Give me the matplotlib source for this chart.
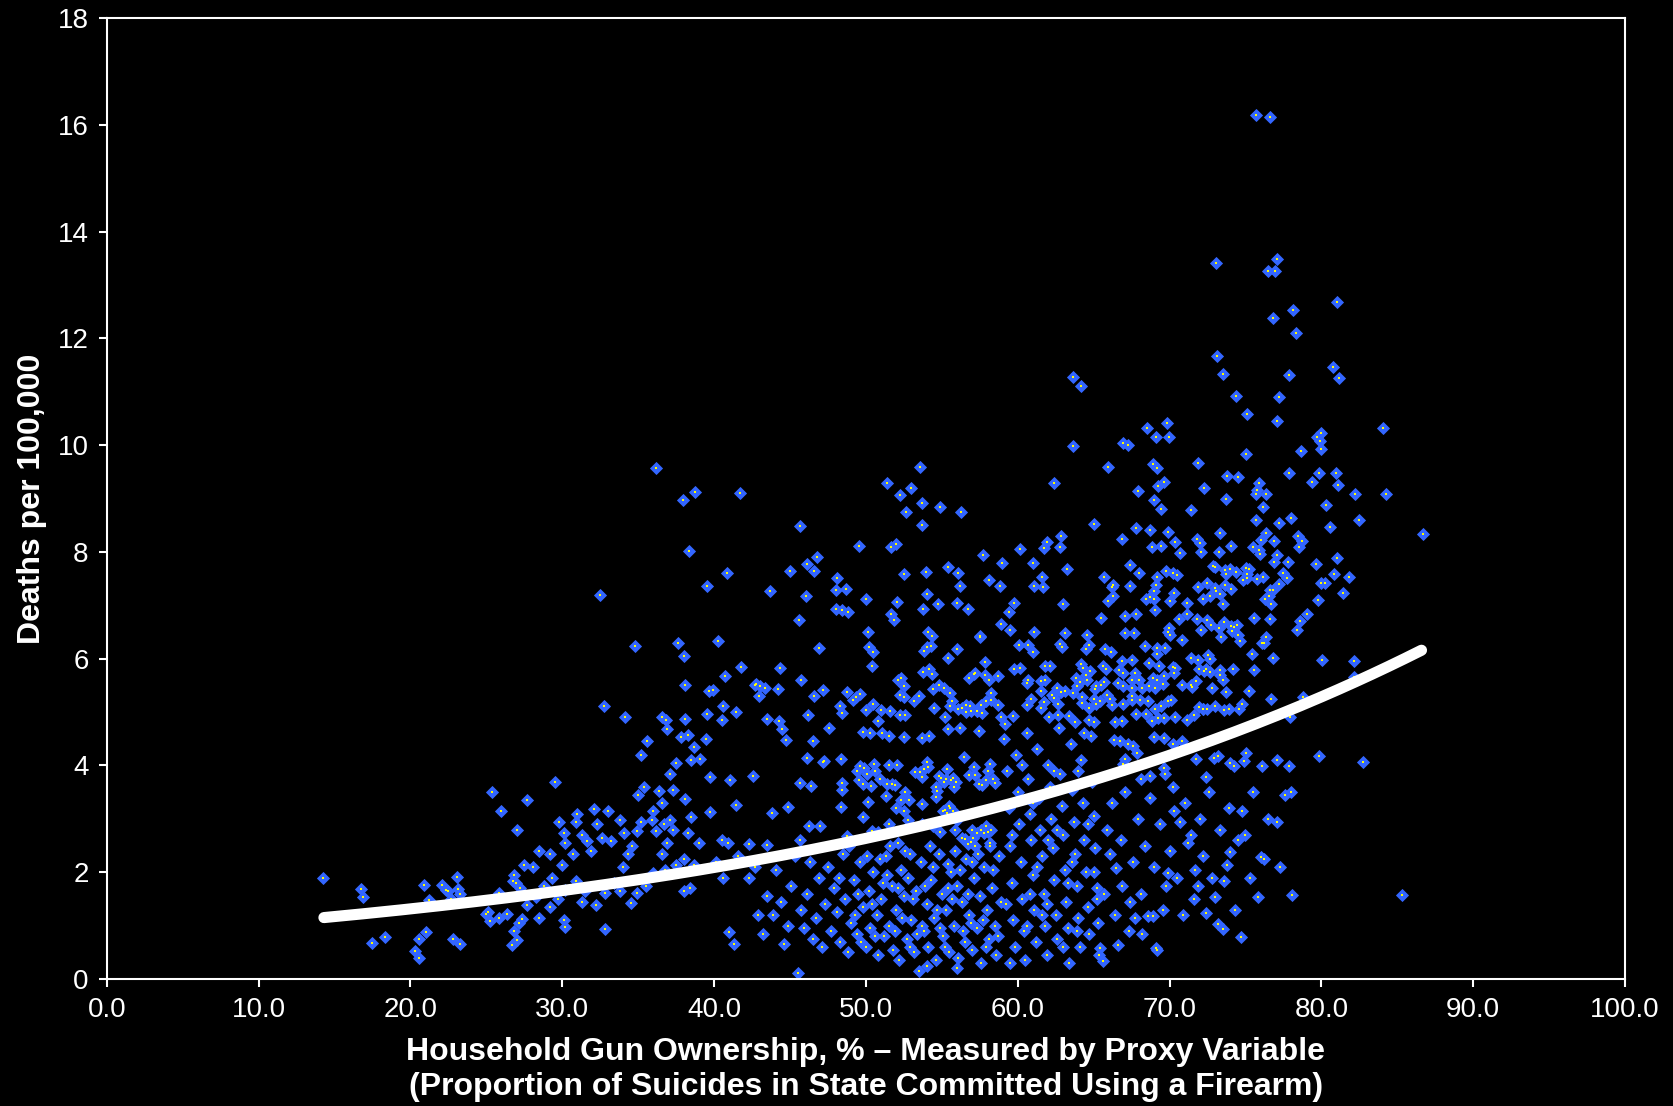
import matplotlib
matplotlib.use('Agg')
import matplotlib.pyplot as plt
import numpy as np

plt.rcParams['font.family'] = ['Liberation Sans', 'DejaVu Sans']

# high outliers (deaths > 9.5)
top_x = [75.73, 76.6, 73.08, 77.08, 76.48, 76.96, 81.05, 78.15, 76.84, 78.36,
         73.13, 73.53, 77.84, 80.74, 81.18, 63.64, 64.19, 74.35, 77.2, 75.12,
         77.08, 84.03, 69.82, 68.55, 69.1, 69.96, 66.95, 67.28, 63.67, 79.69,
         79.98, 79.93, 79.95, 78.68, 75.02, 53.55, 65.98, 68.91, 69.15, 71.88,
         36.18]
top_y = [16.19, 16.14, 13.42, 13.49, 13.27, 13.27, 12.68, 12.53, 12.38, 12.11,
         11.67, 11.33, 11.32, 11.46, 11.26, 11.28, 11.11, 10.93, 10.90, 10.58,
         10.45, 10.32, 10.42, 10.33, 10.16, 10.16, 10.05, 10.01, 9.98, 10.16,
         10.22, 10.07, 9.93, 9.90, 9.83, 9.60, 9.60, 9.64, 9.58, 9.66,
         9.58]

# 30-43 %, upper band
left_x = [38.77, 37.94, 41.69, 38.37, 40.84, 39.52, 32.51, 34.8, 37.6, 40.26,
          38.04, 41.77, 40.70, 42.7, 38.11, 39.64, 39.95, 32.73, 40.57, 41.45,
          39.56, 34.16, 36.55, 36.84, 38.09, 40.55]
left_y = [9.12, 8.97, 9.10, 8.01, 7.61, 7.37, 7.19, 6.24, 6.29, 6.33,
          6.05, 5.84, 5.67, 5.51, 5.51, 5.40, 5.42, 5.12, 5.12, 5.01,
          4.97, 4.90, 4.90, 4.85, 4.87, 4.85]

# 43-58 %, upper band
mid_x = [51.42, 53.0, 52.27, 53.7, 54.88, 52.62, 56.25, 53.7, 45.68, 49.57,
         51.68, 52.0, 46.76, 46.14, 46.6, 44.98, 55.41, 56.07, 53.96, 52.51,
         56.18, 48.08, 48.01, 48.67, 43.67, 46.08, 50.0, 54.03, 54.75, 56.0,
         56.75, 52.05, 53.77, 48.03, 48.45, 48.85, 51.68, 51.87, 45.62, 50.16,
         54.07, 54.38, 57.52, 50.19, 50.49, 54.03, 54.31, 53.81, 56.03, 55.39,
         46.91, 50.43, 44.32, 45.72, 53.74, 54.13, 54.33, 57.13, 56.81, 52.1,
         52.31, 52.49, 54.8, 55.17, 54.45, 55.55, 42.74, 43.05, 43.34, 42.96,
         44.22, 47.16, 46.6, 48.76, 49.64, 49.35, 49.18, 52.27, 52.49, 53.52,
         53.19, 55.65, 55.56, 56.05, 56.59, 56.86, 56.35, 56.59, 56.91, 57.3,
         54.5, 50.47, 50.0, 50.98, 51.57, 48.3, 48.45, 46.17, 43.47, 44.3,
         50.82, 52.25, 52.55, 55.22]
mid_y = [9.30, 9.20, 9.07, 8.91, 8.85, 8.74, 8.75, 8.51, 8.49, 8.12,
         8.10, 8.15, 7.91, 7.78, 7.64, 7.64, 7.72, 7.61, 7.62, 7.58,
         7.37, 7.51, 7.29, 7.31, 7.26, 7.17, 7.11, 7.21, 7.02, 7.04,
         6.94, 7.06, 6.93, 6.93, 6.92, 6.88, 6.84, 6.72, 6.72, 6.51,
         6.51, 6.43, 6.42, 6.22, 6.13, 6.22, 6.23, 6.14, 6.18, 6.02,
         6.21, 5.87, 5.83, 5.61, 5.76, 5.80, 5.71, 5.72, 5.63, 5.60,
         5.64, 5.49, 5.50, 5.45, 5.44, 5.36, 5.52, 5.49, 5.45, 5.30,
         5.44, 5.42, 5.30, 5.38, 5.34, 5.28, 5.23, 5.33, 5.28, 5.30,
         5.21, 5.20, 5.11, 5.06, 5.13, 5.11, 5.07, 5.00, 5.02, 5.03,
         5.07, 5.15, 5.04, 5.04, 5.02, 5.12, 4.99, 4.94, 4.88, 4.83,
         4.84, 4.94, 4.94, 4.90]

# 57-72 %, upper band
right_x = [62.41, 67.9, 69.22, 69.66, 68.96, 69.44, 71.41, 72.27, 65.05, 67.82,
           68.72, 69.93, 66.89, 62.88, 61.95, 62.77, 61.71, 60.14, 57.72, 58.97,
           61.01, 68.83, 69.42, 70.39, 70.69, 71.81, 72.01, 72.1, 63.27, 67.4,
           67.97, 69.75, 70.21, 70.47, 69.15, 65.69, 61.6, 58.11, 58.82, 61.1,
           61.69, 66.26, 66.2, 67.42, 69.11, 68.98, 68.43, 68.7, 69.0, 66.28,
           65.97, 70.3, 70.01, 71.9, 72.21, 71.14, 59.78, 63.0, 59.45, 69.05,
           71.17, 67.78, 67.09, 65.51, 70.6, 71.81, 58.88, 69.99, 70.03, 69.93,
           57.5, 59.51, 61.05, 63.1, 64.59, 67.09, 67.64, 70.82, 72.08, 60.11,
           60.7, 61.03, 62.81, 62.9, 64.7, 64.5, 65.73, 66.17, 68.37, 69.16,
           69.69, 69.2, 57.85, 57.19, 57.87, 58.13, 58.69, 59.78, 60.18, 61.82,
           62.13, 64.19, 64.31, 64.75, 65.62, 65.82, 66.88, 67.56, 66.69, 66.92,
           68.63, 69.33, 70.21, 70.36, 70.32, 71.41, 71.88, 71.94, 72.25, 67.75,
           68.9, 69.18, 69.62, 69.57, 69.07, 68.65, 68.17, 67.97, 67.51, 67.51,
           66.61, 66.96, 65.67, 65.49, 65.18, 65.07, 64.59, 64.52, 64.13, 63.91,
           63.82, 63.67, 63.14, 62.85, 62.59, 61.82, 61.56, 60.7, 60.63, 61.54,
           62.28, 62.42, 62.63, 61.74, 60.9, 60.63, 61.54, 59.67, 58.9, 58.73,
           58.24, 57.91, 58.22, 57.59, 57.34, 57.67, 64.26, 64.22, 64.72, 65.01,
           65.18, 65.45, 65.85, 66.07, 66.24, 66.96, 67.51, 67.53, 68.04, 68.57,
           69.05, 69.44, 69.93, 70.12, 70.81, 71.41, 71.46, 71.77, 71.93, 72.19,
           71.64, 71.16, 70.36, 69.62, 69.25, 68.83, 68.45, 67.82, 66.89, 66.41,
           64.72, 65.01, 63.78, 63.41, 62.66, 62.07, 59.19]
right_y = [9.29, 9.15, 9.24, 9.32, 8.97, 8.80, 8.79, 9.20, 8.52, 8.45,
           8.41, 8.37, 8.24, 8.30, 8.19, 8.10, 8.08, 8.06, 7.94, 7.79,
           7.79, 8.09, 8.12, 8.18, 7.99, 8.24, 8.17, 8.00, 7.69, 7.76,
           7.61, 7.65, 7.60, 7.56, 7.54, 7.53, 7.54, 7.47, 7.37, 7.37,
           7.35, 7.38, 7.34, 7.37, 7.39, 7.26, 7.12, 7.15, 7.12, 7.18,
           7.09, 7.23, 7.08, 7.35, 7.12, 7.04, 7.04, 7.02, 6.88, 6.91,
           6.84, 6.84, 6.80, 6.77, 6.75, 6.74, 6.66, 6.57, 6.44, 6.50,
           6.41, 6.53, 6.50, 6.49, 6.44, 6.48, 6.48, 6.36, 6.53, 6.25,
           6.25, 6.12, 6.27, 6.22, 6.25, 6.19, 6.18, 6.13, 6.24, 6.20,
           6.20, 6.09, 5.93, 5.73, 5.70, 5.60, 5.68, 5.81, 5.82, 5.87,
           5.87, 5.91, 5.82, 5.77, 5.86, 5.81, 5.96, 5.98, 5.79, 5.73,
           5.92, 5.86, 5.84, 5.82, 5.73, 6.02, 5.98, 5.81, 5.77, 5.73,
           5.63, 5.60, 5.67, 5.53, 5.46, 5.48, 5.46, 5.60, 5.61, 5.46,
           5.54, 5.49, 5.57, 5.51, 5.48, 5.43, 5.60, 5.70, 5.56, 5.48,
           5.64, 5.36, 5.40, 5.38, 5.46, 5.60, 5.58, 5.60, 5.54, 5.40,
           5.32, 5.26, 5.15, 5.19, 5.25, 5.13, 5.07, 4.93, 4.91, 5.13,
           5.22, 5.21, 5.36, 5.13, 5.03, 4.98, 5.29, 5.18, 5.08, 5.25,
           5.16, 5.21, 5.33, 5.24, 5.13, 5.16, 5.31, 5.22, 5.23, 5.20,
           5.06, 5.11, 5.21, 5.22, 5.51, 5.51, 5.47, 5.58, 5.09, 5.06,
           4.94, 4.85, 4.90, 4.89, 4.89, 4.83, 4.96, 4.97, 4.84, 4.82,
           4.86, 4.81, 4.82, 4.92, 4.94, 4.91, 4.78]

# 72-87 %, upper band
far_x = [73.79, 74.49, 77.85, 79.87, 80.97, 79.37, 81.08, 75.92, 75.79, 75.72,
         76.38, 82.21, 84.25, 73.71, 76.16, 80.29, 75.68, 77.24, 77.99, 82.5,
         80.58, 86.68, 73.35, 76.38, 76.03, 76.91, 78.47, 78.75, 78.55, 74.03,
         73.26, 75.48, 75.92, 75.99, 77.08, 76.86, 77.83, 81.04, 79.63, 72.89,
         73.02, 73.66, 74.01, 73.71, 74.36, 75.03, 75.26, 75.09, 75.11, 74.82,
         75.79, 76.18, 77.48, 77.75, 80.82, 81.85, 79.98, 80.26, 77.22, 72.45,
         73.68, 72.99, 73.06, 73.33, 74.05, 72.67, 73.53, 76.65, 76.82, 76.56,
         76.27, 76.67, 81.45, 79.78, 79.06, 75.59, 76.65, 78.58, 78.38, 73.61,
         72.49, 72.71, 73.24, 73.37, 74.07, 74.27, 74.47, 74.14, 74.53, 74.65,
         76.38, 76.08, 76.21, 75.42, 76.8, 80.07, 82.16, 72.56, 72.69, 72.39,
         72.65, 73.31, 73.35, 73.51, 74.21, 75.59, 72.8, 73.75, 75.26, 76.67,
         78.82, 82.16, 72.99, 72.23, 72.49, 73.61, 73.92, 74.58, 74.78, 77.94]
far_y = [9.42, 9.40, 9.48, 9.48, 9.47, 9.31, 9.26, 9.29, 9.16, 9.08,
         9.08, 9.08, 9.08, 9.00, 8.85, 8.88, 8.59, 8.54, 8.63, 8.60,
         8.47, 8.34, 8.35, 8.35, 8.22, 8.20, 8.30, 8.20, 8.09, 8.12,
         8.00, 8.09, 8.04, 7.97, 7.95, 7.82, 7.81, 7.89, 7.77, 7.73,
         7.72, 7.67, 7.69, 7.58, 7.62, 7.70, 7.68, 7.58, 7.52, 7.47,
         7.50, 7.53, 7.61, 7.52, 7.58, 7.53, 7.42, 7.42, 7.40, 7.42,
         7.39, 7.33, 7.27, 7.22, 7.30, 7.17, 7.03, 7.28, 7.28, 7.18,
         7.12, 7.02, 7.24, 7.10, 6.84, 6.76, 6.74, 6.70, 6.53, 6.69,
         6.72, 6.64, 6.58, 6.41, 6.61, 6.59, 6.64, 6.52, 6.45, 6.34,
         6.41, 6.29, 6.30, 6.08, 6.02, 5.97, 5.95, 6.07, 6.00, 5.80,
         5.76, 5.79, 5.70, 5.61, 5.80, 5.79, 5.45, 5.38, 5.40, 5.25,
         5.28, 5.66, 5.11, 5.06, 5.06, 5.04, 5.06, 5.05, 5.16, 4.91]

# 14-28 %
low_x = [25.35, 27.66, 25.99, 27.04, 27.48, 26.85, 26.74, 26.96, 27.2, 14.26,
         16.77, 16.9, 20.9, 22.1, 22.35, 22.48, 23.07, 23.14, 23.27, 21.24,
         22.69, 25.86, 27.66, 25.13, 24.98, 25.26, 25.83, 26.36, 27.37, 27.13,
         26.8, 27.0, 26.71, 17.49, 18.31, 20.57, 21.03, 20.28, 20.55, 22.79,
         23.29]
low_y = [3.50, 3.36, 3.15, 2.79, 2.13, 1.95, 1.83, 1.79, 1.71, 1.90,
         1.69, 1.54, 1.77, 1.77, 1.66, 1.65, 1.92, 1.69, 1.60, 1.48,
         1.49, 1.62, 1.38, 1.26, 1.22, 1.08, 1.14, 1.22, 1.12, 1.05,
         0.90, 0.74, 0.64, 0.67, 0.78, 0.75, 0.88, 0.52, 0.40, 0.75,
         0.66]

# 28-39 %
cluster_a_x = [28.1, 28.5, 29.2, 29.5, 29.8, 30.1, 30.2, 30.7, 31.0, 30.9,
               31.3, 31.6, 31.9, 30.0, 29.3, 28.8, 28.3, 28.5, 29.2, 29.7,
               30.2, 30.9, 30.1, 30.2, 31.3, 31.5, 32.2, 32.8, 32.8, 33.4,
               33.8, 34.0, 34.3, 34.6, 34.9, 35.2, 35.0, 35.4, 35.2, 35.6,
               35.9, 36.2, 36.6, 36.8, 36.0, 35.5, 34.9, 34.5, 33.2, 32.6,
               32.3, 32.1, 33.0, 33.8, 34.1, 36.7, 37.1, 37.3, 36.9, 37.5,
               38.0, 38.0, 38.4, 38.7, 39.0, 38.3, 38.5, 38.1, 37.3, 36.6,
               36.0, 36.4, 36.9, 37.8, 38.3, 37.5, 37.1, 38.5, 38.7]
cluster_a_y = [2.10, 2.40, 2.34, 3.70, 2.94, 2.74, 2.54, 2.34, 3.10, 2.94,
               2.70, 2.58, 2.40, 2.14, 1.90, 1.74, 1.54, 1.14, 1.34, 1.50,
               1.66, 1.84, 1.10, 0.98, 1.44, 1.64, 1.38, 1.62, 0.94, 1.80,
               1.64, 2.10, 2.34, 2.50, 2.78, 2.94, 3.44, 3.60, 4.20, 4.46,
               2.98, 2.78, 2.34, 2.04, 1.98, 1.74, 1.62, 1.42, 2.58, 2.64,
               2.90, 3.18, 3.14, 2.98, 2.74, 2.90, 2.98, 2.80, 2.54, 2.14,
               2.24, 1.64, 1.70, 2.14, 2.54, 2.74, 3.04, 3.38, 3.54, 3.30,
               3.14, 3.52, 4.68, 4.54, 4.58, 4.04, 3.84, 4.10, 4.34]

# 39-59 %, middle band
cluster_b_x = [44.46, 47.59, 44.76, 46.54, 39.49, 39.08, 46.14, 47.18, 47.27, 48.34,
               39.71, 41.07, 42.57, 45.64, 46.37, 48.41, 48.43, 41.47, 44.89, 43.84,
               39.73, 48.38, 46.26, 46.98, 40.5, 40.94, 42.32, 43.49, 45.66, 48.75,
               49.83, 50.27, 51.06, 51.5, 52.49, 53.72, 54.18, 55.41, 56.18, 57.48,
               49.61, 49.86, 49.4, 50.08, 49.57, 49.79, 50.34, 50.56, 50.6, 50.93,
               51.55, 52.05, 51.37, 51.7, 51.94, 53.22, 53.59, 53.7, 53.83, 54.09,
               54.03, 54.82, 54.95, 55.28, 55.17, 55.35, 55.63, 55.76, 55.83, 55.94,
               54.6, 54.71, 54.62, 55.46, 55.52, 55.06, 55.35, 55.72, 55.92, 55.98,
               55.89, 56.44, 56.82, 57.1, 57.21, 57.48, 57.65, 58.02, 57.91, 58.2,
               58.38, 58.51, 50.16, 51.35, 52.34, 52.84, 52.6, 52.01, 52.54, 52.75,
               51.55, 50.8, 49.81, 50.43, 53.7, 53.68, 54.4, 54.86, 55.21, 57.59,
               57.34, 56.97, 57.76, 58.05, 58.27, 58.18, 57.04, 57.91, 56.36, 56.55,
               56.75, 56.93]
cluster_b_y = [4.69, 4.71, 4.47, 4.46, 4.49, 4.12, 4.14, 4.06, 4.09, 4.13,
               3.79, 3.72, 3.81, 3.67, 3.62, 3.68, 3.55, 3.26, 3.22, 3.11,
               3.12, 3.22, 2.86, 2.87, 2.61, 2.55, 2.53, 2.52, 2.60, 2.68,
               4.62, 4.61, 4.60, 4.56, 4.53, 4.51, 4.55, 4.69, 4.70, 4.65,
               3.99, 3.96, 3.90, 3.85, 3.73, 3.65, 3.61, 4.03, 3.90, 3.74,
               4.00, 4.01, 3.65, 3.65, 3.64, 3.88, 3.88, 3.78, 3.93, 3.98,
               4.06, 3.80, 3.76, 3.75, 3.70, 3.93, 3.72, 3.76, 3.60, 3.69,
               3.60, 3.52, 3.41, 3.25, 3.21, 3.14, 3.11, 3.14, 3.09, 2.98,
               2.80, 4.15, 3.83, 3.98, 3.82, 3.65, 3.63, 3.90, 3.73, 4.02,
               3.75, 3.67, 3.31, 3.43, 3.36, 3.35, 3.50, 3.20, 3.14, 2.98,
               2.90, 2.75, 3.03, 2.78, 3.27, 2.90, 2.87, 2.75, 3.17, 2.79,
               2.74, 2.79, 2.74, 2.75, 2.79, 2.54, 2.65, 2.87, 2.64, 2.62,
               2.53, 2.57]

# 40-59 %, below 2.4
cluster_c_x = [43.2, 43.5, 43.9, 44.1, 44.4, 44.6, 44.9, 45.1, 45.3, 45.5,
               45.7, 45.9, 46.1, 46.3, 46.5, 46.7, 46.9, 47.1, 47.3, 47.5,
               47.7, 47.9, 48.1, 48.3, 48.5, 48.6, 48.8, 49.0, 49.2, 49.4,
               49.6, 49.8, 50.0, 50.2, 50.3, 50.5, 50.7, 50.8, 51.0, 51.2,
               51.3, 51.5, 51.7, 51.8, 52.0, 52.2, 52.3, 52.5, 52.7, 52.8,
               53.0, 53.2, 53.3, 53.5, 53.6, 53.8, 54.0, 54.1, 54.3, 54.5,
               54.6, 54.8, 55.0, 55.1, 55.3, 55.5, 55.6, 55.8, 56.0, 56.1,
               56.3, 56.5, 56.6, 56.8, 57.0, 57.1, 57.3, 57.5, 57.6, 57.8,
               58.0, 58.1, 58.3, 58.5, 58.6, 58.8, 58.9, 51.4, 52.9, 54.9,
               56.9, 55.7, 53.9, 50.9, 49.5, 57.9, 52.4, 53.4, 54.4, 55.4,
               56.2, 57.4, 58.4, 40.1, 40.6, 41.0, 41.3, 41.6, 42.3, 42.7,
               42.9]
cluster_c_y = [0.85, 1.55, 1.20, 2.05, 1.45, 0.65, 1.00, 1.75, 2.30, 0.12,
               1.30, 0.95, 1.60, 2.20, 0.75, 1.15, 1.90, 0.60, 1.40, 2.10,
               0.90, 1.70, 1.25, 0.70, 2.35, 1.50, 0.50, 1.05, 1.85, 0.85,
               2.20, 1.35, 0.60, 1.65, 0.95, 2.00, 1.20, 0.45, 1.50, 0.80,
               2.30, 1.00, 1.75, 0.55, 1.30, 0.35, 2.05, 1.55, 0.75, 1.90,
               1.10, 0.50, 1.65, 0.15, 2.20, 0.90, 1.40, 0.60, 1.85, 1.15,
               0.35, 2.35, 1.60, 0.80, 1.30, 0.50, 2.00, 1.00, 1.75, 0.40,
               1.45, 0.70, 2.25, 1.20, 0.55, 1.90, 0.95, 1.55, 0.30, 2.10,
               1.30, 0.75, 1.70, 1.00, 0.45, 2.30, 1.45, 1.95, 2.35, 0.95,
               1.05, 1.50, 1.75, 2.25, 1.60, 0.60, 1.15, 0.85, 2.10, 2.15,
               2.05, 2.35, 2.05, 2.20, 1.90, 0.88, 0.65, 2.30, 1.90, 2.10,
               1.20]

# 59-65 %, below 4.8
cluster_d_x = [59.1, 59.3, 59.4, 59.5, 59.6, 59.7, 59.8, 59.9, 60.0, 60.1,
               60.2, 60.3, 60.4, 60.5, 60.6, 60.7, 60.8, 60.9, 61.0, 61.1,
               61.2, 61.3, 61.4, 61.5, 61.6, 61.7, 61.8, 61.9, 62.0, 62.1,
               62.2, 62.3, 62.4, 62.5, 62.6, 62.7, 62.8, 62.9, 63.0, 63.1,
               63.2, 63.3, 63.4, 63.5, 63.6, 63.7, 63.8, 63.9, 64.0, 64.1,
               64.2, 64.3, 64.4, 64.5, 64.6, 64.7, 64.8, 64.9, 65.0, 65.1,
               65.2, 65.3, 65.35, 59.6, 60.3, 61.0, 61.6, 62.4, 63.0, 63.6,
               64.4, 65.0, 60.8, 62.0, 64.0]
cluster_d_y = [4.50, 3.90, 3.20, 2.50, 1.80, 1.10, 0.60, 4.20, 3.50, 2.90,
               2.20, 1.50, 0.90, 0.35, 4.60, 3.75, 3.10, 2.60, 1.95, 1.30,
               0.70, 4.30, 3.40, 2.80, 2.30, 1.60, 1.00, 0.45, 4.00, 3.60,
               3.00, 2.45, 1.85, 1.20, 0.75, 4.70, 3.85, 3.25, 2.70, 2.05,
               1.45, 0.95, 0.30, 4.40, 3.55, 2.95, 2.35, 1.75, 1.15, 0.60,
               4.10, 3.30, 2.60, 2.00, 1.35, 0.85, 4.55, 3.70, 3.05, 2.45,
               1.70, 1.05, 0.45, 2.70, 4.00, 3.30, 1.20, 3.90, 0.60, 2.20,
               4.60, 2.00, 1.60, 2.60, 3.90]

# 65-86 %, below 4.8
cluster_e_x = [67.05, 66.37, 66.72, 67.29, 67.62, 67.88, 66.92, 67.0, 69.0, 69.66,
               69.66, 69.73, 68.72, 68.13, 70.22, 70.85, 71.73, 72.95, 73.22, 72.41,
               73.99, 74.28, 74.89, 75.06, 76.12, 77.11, 77.88, 79.85, 82.73,
               85.3, 78.1, 75.8, 74.7, 73.5, 73.2, 77.1, 77.6, 76.2, 76.0,
               75.0, 74.8, 74.0, 73.8, 73.6, 73.0, 72.4, 71.9, 71.7, 71.2,
               70.7, 70.3, 69.9, 69.8, 68.9, 68.6, 69.1, 69.2, 68.2, 67.7,
               67.4, 66.9, 66.5, 66.1, 66.6, 65.6, 65.4, 65.7, 65.9, 66.2,
               66.4, 66.8, 67.1, 67.3, 67.6, 67.9, 68.1, 68.4, 68.7, 69.0,
               69.4, 69.6, 70.0, 70.2, 70.5, 70.9, 71.0, 71.4, 71.6, 72.0,
               72.2, 72.6, 72.8, 73.3, 73.9, 74.3, 74.5, 75.3, 75.5, 76.5,
               77.3, 78.0]
cluster_e_y = [4.12, 4.48, 4.45, 4.40, 4.36, 4.24, 4.03, 3.93, 4.54, 4.52,
               3.96, 3.85, 3.81, 3.74, 4.40, 4.46, 4.12, 4.14, 4.18, 3.78,
               4.05, 3.99, 4.08, 4.24, 3.99, 4.11, 3.99, 4.17, 4.07,
               1.58, 1.58, 1.54, 0.78, 0.94, 1.04, 2.94, 3.44, 2.24, 2.28,
               2.70, 3.14, 2.38, 2.14, 1.84, 1.54, 1.24, 1.74, 2.04, 2.54,
               2.94, 3.14, 1.98, 1.74, 1.18, 1.18, 0.58, 0.54, 0.84, 1.14,
               1.44, 1.74, 2.08, 2.34, 0.64, 0.34, 0.58, 1.60, 2.80, 3.30,
               1.20, 2.60, 3.50, 0.90, 2.20, 3.00, 1.60, 2.50, 3.40, 2.10,
               2.90, 1.30, 2.40, 3.60, 1.90, 1.20, 3.30, 2.70, 1.50, 3.00,
               2.30, 3.50, 1.90, 2.80, 3.20, 1.30, 2.60, 1.90, 3.50, 3.00,
               2.10, 3.50]

# 48-65 %, extra points in the dense lower block
cluster_f_x = [48.2, 48.9, 49.3, 49.7, 50.1, 50.4, 50.6, 51.1, 51.6, 51.9,
               52.1, 52.6, 52.9, 53.1, 53.7, 54.2, 54.7, 55.2, 55.4, 55.9,
               56.4, 56.7, 57.2, 57.7, 58.2, 58.7, 59.2, 59.5, 60.6, 61.3,
               61.9, 62.6, 63.3, 63.9, 64.6, 65.2, 56.0, 57.0, 54.0, 52.1]
cluster_f_y = [1.90, 2.50, 1.20, 0.70, 2.30, 1.40, 0.80, 1.80, 2.50, 0.90,
               1.70, 2.40, 0.60, 1.50, 1.00, 2.50, 1.30, 0.60, 1.70, 2.40,
               0.90, 1.60, 2.50, 1.10, 2.50, 0.80, 1.40, 0.30, 1.00, 2.10,
               1.40, 2.80, 1.80, 0.90, 2.90, 1.50, 0.20, 2.20, 0.25, 2.55]

# exponential trend line
trend_a = 0.826
trend_b = 0.0232
trend_start = 14.3
trend_end = 86.6


def main():
    gun_pct = np.concatenate([top_x, left_x, mid_x, right_x, far_x, low_x,
                              cluster_a_x, cluster_b_x, cluster_c_x,
                              cluster_d_x, cluster_e_x, cluster_f_x])
    deaths = np.concatenate([top_y, left_y, mid_y, right_y, far_y, low_y,
                             cluster_a_y, cluster_b_y, cluster_c_y,
                             cluster_d_y, cluster_e_y, cluster_f_y])

    fig = plt.figure(figsize=(16.74, 11.06), dpi=100, facecolor='black')
    ax = fig.add_axes([0.0638, 0.1148, 0.9069, 0.8688])
    ax.set_facecolor('black')

    # blue diamond with a small yellow centre
    ax.plot(gun_pct, deaths, linestyle='none', marker='D', markersize=6,
            markerfacecolor='#3366ff', markeredgecolor='#3366ff',
            markeredgewidth=0.6, zorder=2)
    ax.plot(gun_pct, deaths, linestyle='none', marker='s', markersize=1.5,
            markerfacecolor='#ffff00', markeredgewidth=0, zorder=2)

    tx = np.linspace(trend_start, trend_end, 200)
    ax.plot(tx, trend_a * np.exp(trend_b * tx), color='white', linewidth=8,
            solid_capstyle='round', zorder=3)

    ax.set_xlim(0, 100)
    ax.set_ylim(0, 18)
    ax.set_xticks(np.arange(0, 101, 10))
    ax.set_xticklabels(['%.1f' % v for v in np.arange(0, 101, 10)])
    ax.set_yticks(np.arange(0, 19, 2))

    for side in ['left', 'bottom', 'top', 'right']:
        ax.spines[side].set_color('white')
        ax.spines[side].set_linewidth(1.5)
    ax.tick_params(colors='white', direction='out', length=6, width=1.5,
                   labelsize=20, pad=7)

    ax.set_xlabel('Household Gun Ownership, % \u2013 Measured by Proxy Variable\n'
                  '(Proportion of Suicides in State Committed Using a Firearm)',
                  color='white', fontsize=23, fontweight='bold',
                  linespacing=1.2, labelpad=10)
    ax.set_ylabel('Deaths per 100,000', color='white', fontsize=23,
                  fontweight='bold', labelpad=8)

    fig.savefig('out.png', dpi=100, facecolor='black')
    plt.close(fig)


if __name__ == '__main__':
    main()
